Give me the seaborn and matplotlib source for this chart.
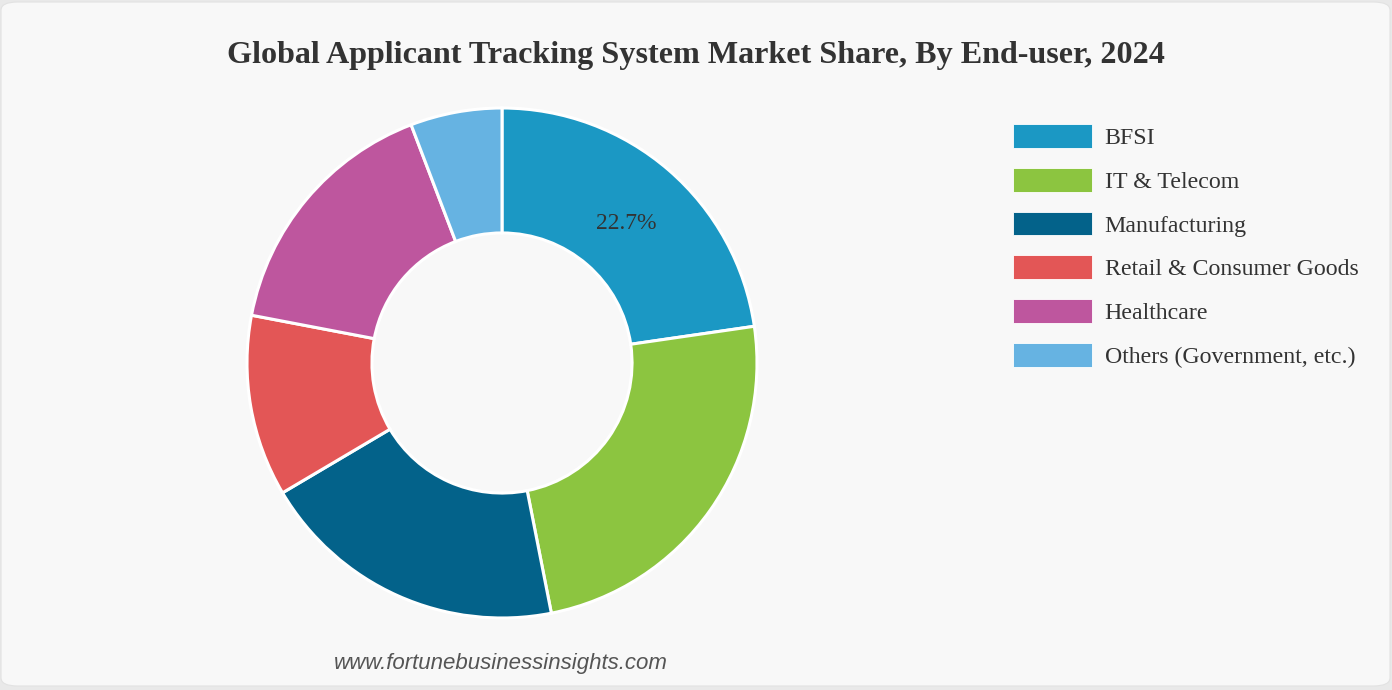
import matplotlib
matplotlib.use("Agg")
import matplotlib.pyplot as plt
import seaborn as sns
import numpy as np
from matplotlib.patches import FancyBboxPatch, Patch

sns.set_theme(style="white")
plt.rcParams['font.family'] = ['Liberation Serif', 'DejaVu Serif']

categories = ["BFSI", "IT & Telecom", "Manufacturing", "Retail & Consumer Goods",
              "Healthcare", "Others (Government, etc.)"]
shares = [22.7, 24.2, 19.6, 11.5, 16.2, 5.8]
colors = ["#1b98c4", "#8cc540", "#03628a", "#e35656", "#be569e", "#66b3e2"]
shown_labels = ["22.7%", "", "", "", "", ""]

W, H = 1392, 690
fig = plt.figure(figsize=(W / 100, H / 100), dpi=100)
fig.patch.set_facecolor("#e9e9e9")
card = FancyBboxPatch((1 / W, 4 / H), 1389 / W, 684 / H,
                      boxstyle="round,pad=0,rounding_size=0.012",
                      transform=fig.transFigure, facecolor="#f8f8f8",
                      edgecolor="#e2e2e2", linewidth=0.8, zorder=-10)
fig.patches.append(card)

cx, cy, r = 502, 363, 255
ax = fig.add_axes([(cx - r) / W, (H - cy - r) / H, 2 * r / W, 2 * r / H])
ax.set_zorder(5)
ax.set_facecolor("none")
wedges, _ = ax.pie(shares, colors=colors, startangle=90, counterclock=False,
                   radius=1.0, wedgeprops=dict(width=0.49, edgecolor="white", linewidth=2.2))
ax.set_xlim(-1, 1)
ax.set_ylim(-1, 1)
ax.set_aspect("equal")
ax.axis("off")

for w, lab in zip(wedges, shown_labels):
    if lab:
        ang = np.deg2rad((w.theta1 + w.theta2) / 2)
        ax.text(0.745 * np.cos(ang), 0.74 * np.sin(ang) - 0.012, lab, ha="center", va="center",
                fontsize=17, color="#333333")

fig.text(696 / W, 1 - 56 / H, "Global Applicant Tracking System Market Share, By End-user, 2024",
         ha="center", va="center", fontsize=23.1, fontweight="bold", color="#333333")

handles = [Patch(facecolor=c, edgecolor="white", linewidth=0.6) for c in colors]
leg = fig.legend(handles, categories, loc="upper left",
                 bbox_to_anchor=(1013 / W, 1 - 124 / H), frameon=False,
                 fontsize=17.2, handlelength=3.3, handleheight=1.15,
                 handletextpad=0.54, labelspacing=0.79, borderpad=0, borderaxespad=0)
for t in leg.get_texts():
    t.set_color("#333333")

fig.text(501 / W, 1 - 664 / H, "www.fortunebusinessinsights.com", ha="center", va="center",
         fontsize=16, style="italic", color="#555555", family=["Liberation Sans", "DejaVu Sans"])

fig.savefig("out.png", dpi=100, facecolor=fig.get_facecolor())
